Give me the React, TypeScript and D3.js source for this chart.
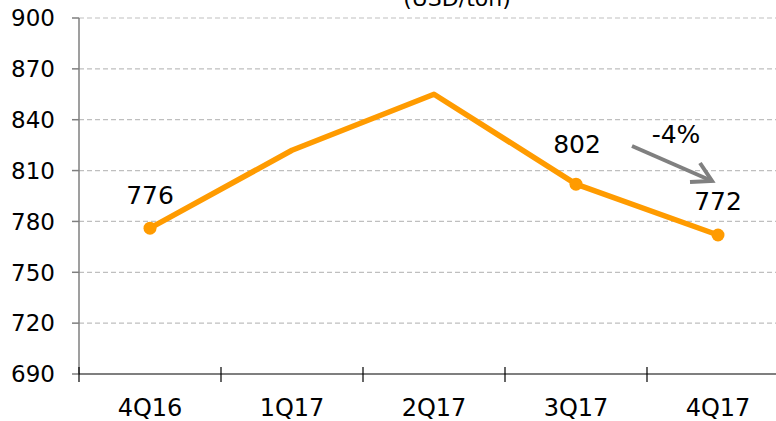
import React from 'react'
import * as d3 from 'd3'

const quarters = ['4Q16', '1Q17', '2Q17', '3Q17', '4Q17']
const prices = [776, 822, 855, 802, 772]
const labelled = [true, false, false, true, true]
const yTicks = [690, 720, 750, 780, 810, 840, 870, 900]
const unitLabel = '(USD/ton)'
const changeLabel = '-4%'

const W = 776
const H = 421
const font = 'DejaVu Sans, Verdana, sans-serif'

export default function App() {
    const margin = { top: 18, left: 79, bottom: 47 }
    const plotBottom = H - margin.bottom

    const x = d3.scaleBand<string>().domain(quarters).range([margin.left, margin.left + 142 * 5])
    const y = d3.scaleLinear().domain([690, 900]).range([plotBottom, margin.top])

    const cx = (q: string) => (x(q) ?? 0) + x.bandwidth() / 2

    const line = d3
        .line<number>()
        .x((_, i) => cx(quarters[i]))
        .y((d) => y(d))

    // label offsets above the point
    const labelDy = [24, 0, 0, 31, 25]

    // arrow between 3Q17 and 4Q17
    const a0 = [632, 146]
    const a1 = [712, 181]

    return (
        <svg width={W} height={H} style={{ position: 'absolute', left: 0, top: 0 }}>
            <rect width={W} height={H} fill="#fff" />
            {yTicks.slice(1).map((t) => (
                <line
                    key={t}
                    x1={margin.left}
                    x2={W}
                    y1={y(t)}
                    y2={y(t)}
                    stroke="#bfbfbf"
                    strokeWidth={1.2}
                    strokeDasharray="5,3"
                />
            ))}
            <text x={457} y={6} textAnchor="middle" fontFamily={font} fontSize={22} fill="#000">
                {unitLabel}
            </text>

            {/* y axis */}
            <line x1={margin.left} x2={margin.left} y1={margin.top} y2={plotBottom} stroke="#7f7f7f" strokeWidth={1.5} />
            {yTicks.map((t) => (
                <g key={t}>
                    <line x1={margin.left - 7} x2={margin.left} y1={y(t)} y2={y(t)} stroke="#7f7f7f" strokeWidth={1.5} />
                    <text
                        x={margin.left - 24}
                        y={y(t)}
                        dy="0.36em"
                        textAnchor="end"
                        fontFamily={font}
                        fontSize={23}
                        fill="#000"
                    >
                        {t}
                    </text>
                </g>
            ))}

            {/* x axis */}
            <line x1={margin.left} x2={W} y1={plotBottom} y2={plotBottom} stroke="#000" strokeWidth={1.2} />
            {quarters.map((q) => (
                <g key={q}>
                    <line
                        x1={x(q) ?? 0}
                        x2={x(q) ?? 0}
                        y1={plotBottom - 7}
                        y2={plotBottom + 8}
                        stroke="#000"
                        strokeWidth={1.2}
                    />
                    <text x={cx(q)} y={416} textAnchor="middle" fontFamily={font} fontSize={24} fill="#000">
                        {q}
                    </text>
                </g>
            ))}

            <path d={line(prices) ?? ''} fill="none" stroke="#ff9b00" strokeWidth={5.5} strokeLinejoin="round" />
            {prices.map((p, i) =>
                labelled[i] ? (
                    <g key={i}>
                        <circle cx={cx(quarters[i])} cy={y(p)} r={6.5} fill="#ff9b00" />
                        <text
                            x={cx(quarters[i]) + (i === 3 ? 1 : 0)}
                            y={y(p) - labelDy[i]}
                            textAnchor="middle"
                            fontFamily={font}
                            fontSize={25}
                            fill="#000"
                        >
                            {p}
                        </text>
                    </g>
                ) : null,
            )}

            {/* change arrow */}
            <line x1={a0[0]} y1={a0[1]} x2={a1[0]} y2={a1[1]} stroke="#808080" strokeWidth={4} />
            <polyline
                points={`700,163 ${a1[0]},${a1[1]} 690,182`}
                fill="none"
                stroke="#808080"
                strokeWidth={4}
                strokeLinejoin="miter"
            />
            <text x={676} y={143} textAnchor="middle" fontFamily={font} fontSize={25} fill="#000">
                {changeLabel}
            </text>
        </svg>
    )
}
